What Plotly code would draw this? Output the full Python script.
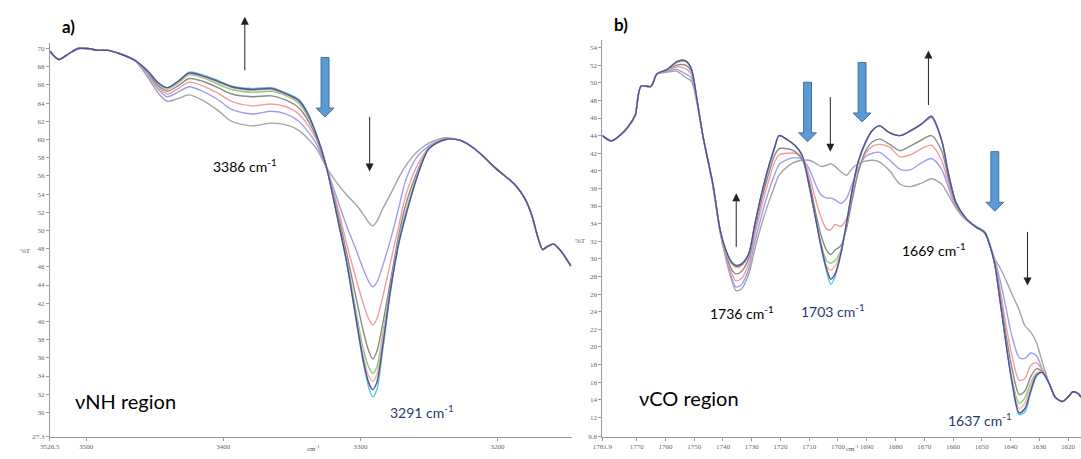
import plotly.graph_objects as go

W, H = 1081, 459

# ---------------- panel a: N-H stretching region ----------------
nh_left_x = [3526.5, 3520, 3513, 3506, 3499, 3491, 3484, 3475, 3464.5]
nh_left_t = [69.7, 68.8, 69.4, 70.0, 70.0, 69.8, 69.8, 69.4, 68.7]

nh_mid_x = [3455, 3448, 3441, 3433, 3425, 3415, 3404, 3394, 3379, 3365,
            3354, 3345, 3339, 3332, 3325, 3317, 3310, 3303, 3298, 3294,
            3291, 3288, 3284, 3278, 3272, 3267, 3259, 3250, 3238]

nh_right_x = [3227, 3216, 3201, 3187, 3180, 3175, 3171, 3167, 3164, 3159, 3154, 3146.5]
nh_right_t = [59.9, 58.9, 56.8, 55.0, 53.5, 51.7, 49.5, 47.9, 48.2, 48.5, 47.8, 46.1]

nh_t1 = [66.8, 65.2, 64.2, 64.5, 64.9, 64.3, 63.2, 62.0, 61.5, 61.8,
         61.6, 61.0, 60.2, 59.0, 57.0, 55.2, 53.9, 52.8, 51.8, 50.9,
         50.5, 51.0, 52.3, 54.0, 55.8, 57.1, 58.6, 59.6, 60.2]
nh_t2 = [67.0, 65.6, 64.7, 65.2, 65.8, 65.3, 64.4, 63.3, 62.8, 63.1,
         62.8, 62.0, 61.0, 59.5, 57.0, 53.5, 50.5, 47.8, 45.8, 44.4,
         43.8, 44.3, 46.0, 49.0, 52.5, 55.5, 58.0, 59.3, 60.1]
nh_t3 = [67.1, 65.8, 65.0, 65.6, 66.3, 65.9, 65.1, 64.2, 63.7, 63.9,
         63.6, 62.8, 61.7, 60.0, 57.0, 52.8, 48.5, 44.6, 42.0, 40.3,
         39.6, 40.3, 42.5, 46.5, 50.5, 53.8, 57.0, 59.1, 60.0]
nh_t4 = [67.3, 66.0, 65.3, 65.9, 66.7, 66.4, 65.7, 65.0, 64.7, 64.8,
         64.3, 63.5, 62.3, 60.2, 57.0, 52.2, 47.5, 42.5, 39.0, 36.8,
         35.9, 36.7, 39.5, 44.5, 49.5, 52.8, 56.3, 59.0, 60.0]
nh_t5 = [67.4, 66.2, 65.5, 66.2, 67.1, 66.8, 66.1, 65.5, 65.2, 65.3,
         64.8, 64.0, 62.7, 60.4, 57.1, 51.8, 46.8, 41.0, 37.0, 35.0,
         34.3, 35.0, 38.3, 43.8, 49.0, 52.0, 55.9, 59.0, 60.0]
nh_t6 = [67.5, 66.3, 65.6, 66.3, 67.2, 66.9, 66.3, 65.7, 65.4, 65.5,
         64.9, 64.2, 62.9, 60.5, 57.1, 51.6, 46.6, 40.5, 36.3, 34.0,
         33.4, 34.2, 37.8, 43.6, 48.7, 51.8, 55.8, 59.0, 60.0]
nh_t7 = [67.5, 66.3, 65.7, 66.4, 67.4, 67.1, 66.5, 65.9, 65.6, 65.7,
         65.1, 64.4, 63.1, 60.6, 57.2, 51.5, 46.5, 40.0, 35.5, 32.8,
         31.7, 32.5, 36.5, 43.3, 48.5, 51.5, 55.7, 59.0, 60.0]
nh_t8 = [67.5, 66.3, 65.7, 66.4, 67.3, 67.0, 66.4, 65.8, 65.5, 65.6,
         65.0, 64.3, 63.0, 60.5, 57.1, 51.6, 46.5, 40.2, 35.8, 33.3,
         32.5, 33.3, 37.0, 43.5, 48.6, 51.6, 55.7, 59.0, 60.0]

# ---------------- panel b: C=O stretching region ----------------
co_left_x = [1781.9, 1778.8, 1774.3, 1771.9, 1770.5, 1768.5, 1765.0, 1763.0]
co_left_t = [44.0, 43.4, 44.5, 45.5, 46.3, 49.6, 49.6, 51.0]

co_mid_x = [1759.5, 1756, 1753, 1751, 1749, 1747, 1743.5, 1741, 1739, 1737,
            1735.5, 1733.5, 1731, 1729, 1726.5, 1724, 1722, 1720.5, 1717.5, 1715,
            1712.5, 1710, 1708, 1706, 1704, 1702.5, 1701, 1699, 1697, 1695,
            1693, 1690.5, 1688, 1685.5, 1682, 1678.5, 1675, 1671, 1667.5, 1664,
            1661.5, 1659, 1655.5, 1652, 1649, 1647.5, 1645.5, 1643.5, 1641.5, 1639.5,
            1637, 1635, 1633, 1631, 1629]

co_right_x = [1626.5, 1624.5, 1622, 1620, 1618.3, 1616.5, 1615.5]
co_right_t = [15.8, 14.3, 13.8, 14.3, 14.9, 14.7, 14.3]

co_t1 = [51.2, 51.3, 50.6, 50.2, 47.6, 44.0, 38.2, 33.0, 30.0, 27.6,
         26.4, 26.6, 28.3, 31.0, 34.0, 36.5, 38.3, 39.5, 40.5, 41.0,
         41.2, 41.2, 40.9, 40.5, 40.6, 40.8, 40.5, 39.9, 39.5, 40.3,
         40.8, 41.1, 41.2, 41.0, 40.0, 38.5, 38.2, 38.6, 39.1, 38.5,
         37.2, 35.8, 34.4, 33.6, 32.9, 31.8, 30.0, 28.9, 27.5, 26.0,
         24.2, 22.4, 21.7, 20.5, 18.3]
co_t2 = [51.3, 51.5, 51.0, 50.6, 47.8, 44.0, 38.3, 33.1, 30.2, 27.9,
         26.8, 27.1, 28.9, 31.8, 35.0, 37.8, 39.6, 40.7, 41.3, 41.5,
         41.3, 40.2, 38.6, 37.3, 36.9, 36.9, 36.7, 36.3, 36.9, 38.6,
         40.2, 41.6, 42.0, 42.1, 41.2, 40.2, 40.1, 40.9, 41.4, 40.2,
         38.0, 35.9, 34.5, 33.7, 33.0, 31.9, 29.9, 27.4, 24.3, 21.2,
         18.8, 18.7, 19.3, 19.0, 17.5]
co_t3 = [51.4, 51.8, 51.6, 51.0, 47.9, 44.0, 38.4, 33.2, 30.4, 28.4,
         27.5, 27.8, 29.5, 32.6, 36.0, 39.0, 41.0, 41.8, 42.0, 42.0,
         41.5, 39.5, 37.0, 34.8, 33.4, 33.3, 33.9, 33.7, 34.6, 37.0,
         39.8, 41.9, 42.8, 43.0, 42.7, 41.6, 41.8, 42.5, 42.9, 41.2,
         38.5, 36.0, 34.5, 33.6, 33.0, 31.9, 29.7, 26.3, 22.3, 19.0,
         16.2, 16.4, 17.9, 18.2, 17.4]
co_t4 = [51.5, 52.0, 52.0, 51.3, 47.9, 44.0, 38.4, 33.3, 30.6, 28.8,
         28.3, 28.6, 30.1, 33.2, 36.8, 39.8, 41.8, 42.5, 42.5, 42.2,
         41.3, 38.8, 35.6, 32.8, 31.0, 30.5, 31.0, 31.5, 33.5, 36.8,
         39.8, 42.2, 43.3, 43.6, 43.0, 42.3, 42.8, 43.5, 44.0, 42.3,
         39.0, 36.2, 34.6, 33.6, 33.0, 31.8, 29.5, 25.6, 21.2, 17.6,
         14.6, 15.0, 16.6, 17.5, 17.2]
co_t5 = [51.5, 52.3, 52.4, 51.6, 48.0, 44.0, 38.5, 33.3, 30.9, 29.5,
         29.1, 29.3, 30.6, 33.7, 37.4, 40.5, 42.6, 44.0, 43.5, 42.9,
         41.7, 38.2, 34.9, 31.9, 29.8, 29.5, 29.8, 31.0, 34.0, 37.8,
         40.9, 43.1, 44.6, 45.1, 44.3, 44.0, 44.5, 45.3, 46.0, 43.5,
         39.6, 36.4, 34.6, 33.6, 33.0, 31.8, 29.4, 24.9, 20.4, 16.4,
         13.6, 14.2, 15.9, 17.0, 17.1]
co_t6 = [51.5, 52.3, 52.4, 51.6, 48.0, 44.0, 38.5, 33.3, 30.9, 29.4,
         29.0, 29.2, 30.6, 33.7, 37.4, 40.5, 42.6, 44.0, 43.5, 42.9,
         41.7, 38.2, 34.9, 31.7, 29.2, 28.7, 29.2, 30.8, 34.0, 37.8,
         40.9, 43.1, 44.6, 45.1, 44.3, 44.0, 44.5, 45.3, 46.0, 43.5,
         39.6, 36.4, 34.6, 33.6, 33.0, 31.8, 29.4, 24.9, 20.3, 16.2,
         13.0, 13.6, 15.6, 17.0, 17.1]
co_t7 = [51.5, 52.4, 52.5, 51.6, 48.0, 44.0, 38.5, 33.3, 31.0, 29.7,
         29.3, 29.5, 30.6, 33.8, 37.5, 40.6, 42.7, 44.0, 43.5, 42.9,
         41.8, 38.3, 35.0, 31.5, 28.6, 27.1, 28.0, 30.5, 34.2, 38.0,
         41.0, 43.2, 44.6, 45.1, 44.3, 44.0, 44.5, 45.3, 46.1, 43.5,
         39.5, 36.5, 34.6, 33.7, 33.1, 32.0, 29.4, 24.9, 20.3, 16.0,
         12.3, 12.6, 14.8, 16.6, 17.1]
co_t8 = [51.5, 52.4, 52.5, 51.6, 48.0, 44.0, 38.5, 33.3, 31.0, 29.6,
         29.2, 29.4, 30.6, 33.8, 37.5, 40.6, 42.7, 44.0, 43.5, 42.9,
         41.8, 38.3, 35.0, 31.6, 28.9, 27.7, 28.3, 30.6, 34.1, 37.9,
         41.0, 43.2, 44.6, 45.1, 44.3, 44.0, 44.5, 45.3, 46.2, 43.5,
         39.5, 36.4, 34.6, 33.6, 33.0, 31.8, 29.4, 24.9, 20.2, 16.0,
         12.5, 13.0, 15.0, 16.8, 17.1]

nh_series = [nh_t1, nh_t2, nh_t3, nh_t4, nh_t5, nh_t6, nh_t7, nh_t8]
co_series = [co_t1, co_t2, co_t3, co_t4, co_t5, co_t6, co_t7, co_t8]
for s in nh_series:
    assert len(s) == len(nh_mid_x)
for s in co_series:
    assert len(s) == len(co_mid_x)

# one colour per recorded spectrum, drawn in this order
line_colors = ['#a4a4a4', '#9d9df0', '#f29c9c', '#8a8a8a',
               '#7fcf7f', '#f3b993', '#5cc9da', '#5b4a9e']

nh_axis_x = ['3526.5', '3500', '3400', '3300', '3200']
nh_axis_y = ['27.3'] + [str(v) for v in range(30, 71, 2)]
co_axis_x = ['1781.9'] + [str(v) for v in range(1770, 1619, -10)]
co_axis_y = ['9.8'] + [str(v) for v in range(12, 55, 2)]

fig = go.Figure()
for s, c in zip(nh_series, line_colors):
    fig.add_trace(go.Scatter(
        x=nh_left_x + nh_mid_x + nh_right_x,
        y=nh_left_t + s + nh_right_t,
        mode='lines', line=dict(color=c, width=1.4, shape='spline', smoothing=0.8),
        xaxis='x', yaxis='y', showlegend=False, hoverinfo='skip'))
for s, c in zip(co_series, line_colors):
    fig.add_trace(go.Scatter(
        x=co_left_x + co_mid_x + co_right_x,
        y=co_left_t + s + co_right_t,
        mode='lines', line=dict(color=c, width=1.4, shape='spline', smoothing=0.8),
        xaxis='x2', yaxis='y2', showlegend=False, hoverinfo='skip'))


def px(x):
    return x / W


def py(y):
    return 1 - y / H


tick_font = dict(family='Liberation Serif', size=7, color='#666666')
axis_common = dict(showline=True, linecolor='#9a9a9a', linewidth=1, ticks='outside',
                   ticklen=3, tickcolor='#9a9a9a', tickfont=tick_font,
                   showgrid=False, zeroline=False, fixedrange=True)

fig.update_layout(
    width=W, height=H, margin=dict(l=0, r=0, t=0, b=0),
    paper_bgcolor='white', plot_bgcolor='white', showlegend=False,
    xaxis=dict(domain=[px(40.3), px(567)], range=[3526.5, 3145.8], anchor='y',
               tickvals=[float(v) for v in nh_axis_x], ticktext=nh_axis_x, **axis_common),
    yaxis=dict(domain=[py(440.8), py(43)], range=[27.3, 70.65], anchor='x',
               tickvals=[float(v) for v in nh_axis_y], ticktext=nh_axis_y, **axis_common),
    xaxis2=dict(domain=[px(598), 1.0], range=[1781.9, 1615.5], anchor='y2',
                tickvals=[float(v) for v in co_axis_x], ticktext=co_axis_x, **axis_common),
    yaxis2=dict(domain=[py(440.5), py(40)], range=[9.8, 54.9], anchor='x2',
                tickvals=[float(v) for v in co_axis_y], ticktext=co_axis_y, **axis_common),
)

LABEL = 'Lato, Carlito, Liberation Sans, sans-serif'
NAVY = '#1f3a70'


def text(x, y, s, size=14, color='black', bold=False, family=LABEL, anchor='center'):
    fig.add_annotation(x=px(x), y=py(y), xref='paper', yref='paper', showarrow=False,
                       text='<b>%s</b>' % s if bold else s, xanchor=anchor, yanchor='middle',
                       font=dict(family=family, size=size, color=color))


text(59, 27, 'a)', size=17, bold=True)
text(617, 25, 'b)', size=17, bold=True)
text(237, 167, '3386 cm<sup>-1</sup>')
text(416, 415, '3291 cm<sup>-1</sup>', color=NAVY)
text(117, 405, 'νNH region', size=20)
text(739, 315, '1736 cm<sup>-1</sup>')
text(831, 313, '1703 cm<sup>-1</sup>', color=NAVY)
text(933, 252, '1669 cm<sup>-1</sup>')
text(979, 423, '1637 cm<sup>-1</sup>', color=NAVY)
text(685, 402, 'νCO region', size=20)
text(16, 253, '%T', size=7, color='#555555', family='Liberation Serif')
text(576, 243, '%T', size=7, color='#555555', family='Liberation Serif')

# wavenumber unit under each x axis
for cx in (306, 850):
    fig.add_annotation(x=px(cx), y=0, xref='paper', yref='paper', showarrow=False,
                       text='cm<sup>-1</sup>', xanchor='center', yanchor='bottom',
                       font=dict(family='Liberation Serif', size=7, color='#555555'))

# thin black arrows: (x, tail y, tip y)
thin_arrows = [(237, 72, 17), (363, 117, 173),
               (733, 250, 195), (828, 97, 153), (927, 107, 51), (1027, 233, 288)]
for x, tail, tip in thin_arrows:
    fig.add_annotation(x=px(x), y=py(tip), xref='paper', yref='paper', text='',
                       showarrow=True, ax=0, ay=tail - tip, arrowhead=2, arrowsize=1.6,
                       arrowwidth=1, arrowcolor='#222222')

# thick blue block arrows: (centre x, top y, tip y)
block_arrows = [(318, 58, 118), (805, 83, 143), (860, 63, 123), (994, 153, 213)]
for cx, top, tip in block_arrows:
    neck = tip - 9
    pts = [(cx - 4, top), (cx + 4, top), (cx + 4, neck), (cx + 9, neck), (cx, tip),
           (cx - 9, neck), (cx - 4, neck)]
    path = 'M ' + ' L '.join('%.5f,%.5f' % (px(a), py(b)) for a, b in pts) + ' Z'
    fig.add_shape(type='path', path=path, xref='paper', yref='paper',
                  fillcolor='#5b9bd5', line=dict(color='#41719c', width=1))

fig.write_html('out.html')
